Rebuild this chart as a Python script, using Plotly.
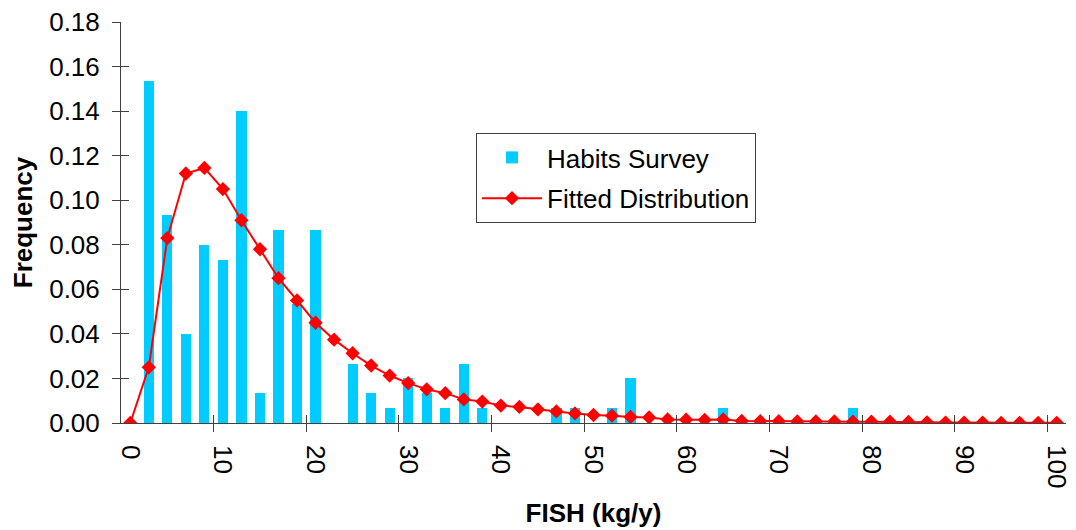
import plotly.graph_objects as go

# ---- data ----
fish_cats = list(range(0, 101, 2))
fitted = [0.0, 0.025, 0.083, 0.112, 0.1145, 0.105, 0.091, 0.078, 0.065, 0.055,
          0.045, 0.0374, 0.0313, 0.0258, 0.0213, 0.0179, 0.0151, 0.0134, 0.0106, 0.0096,
          0.0078, 0.0072, 0.0061, 0.0052, 0.0043, 0.0036, 0.0033, 0.0027, 0.0025, 0.0016,
          0.0015, 0.0014, 0.0016, 0.0009, 0.0008, 0.0008, 0.0007, 0.0007, 0.0007, 0.0006,
          0.0006, 0.0006, 0.0005, 0.0003, 0.0002, 0.0002, 0.0002, 0.0001, 0.0001, 0.0001,
          0.0001]
survey_x = [2, 4, 6, 8, 10, 12, 14, 16, 18, 20, 24, 26, 28, 30, 32, 34, 36, 38, 46, 48, 52, 54, 64, 78]
survey_y = [0.1533, 0.0933, 0.04, 0.08, 0.0733, 0.14, 0.0133, 0.0867, 0.0533, 0.0867,
            0.0267, 0.0133, 0.0067, 0.02, 0.0133, 0.0067, 0.0267, 0.0067, 0.0067, 0.0067,
            0.0067, 0.02, 0.0067, 0.0067]
x_label_vals = list(range(0, 101, 10))
x_tick_marks = list(range(9, 100, 10))
y_tick_vals = [0.0, 0.02, 0.04, 0.06, 0.08, 0.10, 0.12, 0.14, 0.16, 0.18]

FONT = "Liberation Sans, Arial, sans-serif"
AX = "#404040"

fig = go.Figure()
fig.add_trace(go.Bar(x=survey_x, y=survey_y, width=1.1, name="Habits Survey",
                     legendgroup="a",
                     marker=dict(color="#00CCFF", line=dict(width=0))))
fig.add_trace(go.Scatter(x=fish_cats, y=fitted, mode="lines+markers", name="Fitted Distribution",
                         legendgroup="b",
                         line=dict(color="#FF0000", width=2),
                         marker=dict(symbol="diamond", size=11, color="#FF0000")))

xr = [-1, 101]
yr = [0, 0.18]
# the page body adds an 8px offset; margins are reduced to compensate
fig.update_layout(
    width=1068, height=522,
    margin=dict(l=113, r=10, t=14, b=107, autoexpand=False),
    paper_bgcolor="white", plot_bgcolor="white",
    font=dict(family=FONT, size=26, color="black"),
    showlegend=True,
    legend=dict(x=(476 - 121) / 945, y=(423 - 133) / 401, xanchor="left", yanchor="top",
                bordercolor="#404040", borderwidth=1, bgcolor="white",
                font=dict(size=26, family=FONT), tracegroupgap=4, itemwidth=60),
    xaxis=dict(range=xr, tickvals=x_tick_marks, ticks="outside", ticklen=8, tickcolor=AX,
               showticklabels=False, showline=True, linecolor=AX, linewidth=1,
               showgrid=False, zeroline=False, automargin=False),
    xaxis2=dict(range=xr, overlaying="x", anchor="y", side="bottom", tickvals=x_tick_marks,
                ticks="inside", ticklen=8, tickcolor=AX, showticklabels=False,
                showline=False, showgrid=False, zeroline=False, automargin=False),
    xaxis3=dict(range=xr, overlaying="x", anchor="y", side="bottom", tickvals=x_label_vals,
                ticktext=[str(v) for v in x_label_vals], ticks="", tickangle=90,
                ticklabelstandoff=21, ticklabeloverflow="allow",
                showline=False, showgrid=False, zeroline=False, automargin=False,
                title=dict(text="<b>FISH (kg/y)</b>", standoff=16, font=dict(size=26))),
    yaxis=dict(range=yr, tickvals=y_tick_vals, tickformat=".2f", ticks="outside", ticklen=8,
               tickcolor=AX, showline=True, linecolor=AX, linewidth=1, showgrid=False,
               zeroline=False, ticklabelstandoff=7, ticklabeloverflow="allow", automargin=False,
               title=dict(text="<b>Frequency</b>", standoff=16, font=dict(size=26))),
    yaxis2=dict(range=yr, overlaying="y", anchor="x", side="left", tickvals=y_tick_vals,
                ticks="inside", ticklen=8, tickcolor=AX, showticklabels=False,
                showline=False, showgrid=False, zeroline=False, automargin=False),
    bargap=0,
)
# invisible traces so overlay axes are rendered
fig.add_trace(go.Scatter(x=[None], y=[None], xaxis="x2", yaxis="y2", showlegend=False, hoverinfo="skip"))
fig.add_trace(go.Scatter(x=[None], y=[None], xaxis="x3", yaxis="y", showlegend=False, hoverinfo="skip"))

fig.write_html("out.html")
